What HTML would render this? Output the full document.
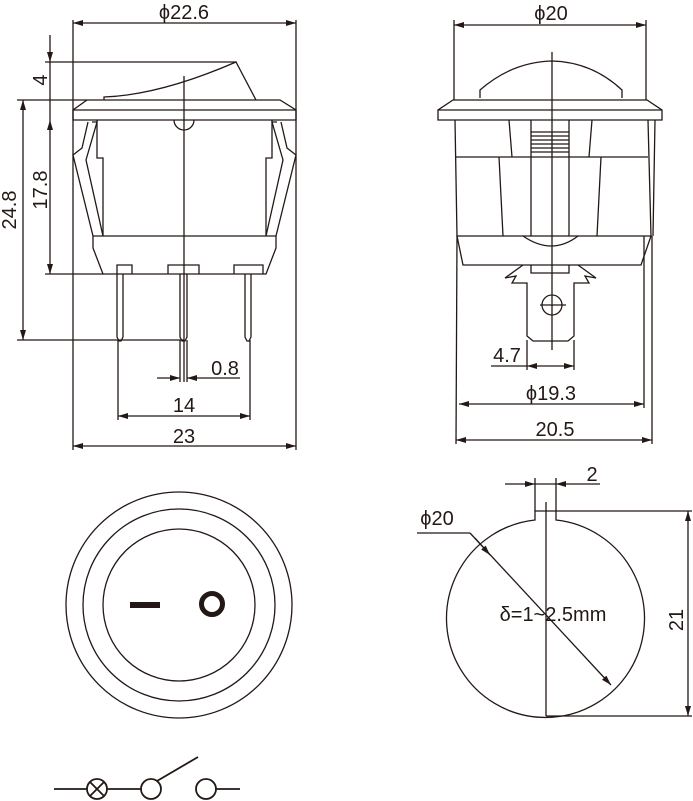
<!DOCTYPE html>
<html><head><meta charset="utf-8"><style>
html,body{margin:0;padding:0;background:#fff;}
svg{display:block;}
text{font-family:"Liberation Sans",sans-serif;fill:#231815;font-size:20px;}
</style></head><body>
<svg width="693" height="801" viewBox="0 0 693 801" xmlns="http://www.w3.org/2000/svg">
<defs>
<marker id="a" viewBox="0 0 10 6" refX="10" refY="3" markerWidth="10" markerHeight="6" orient="auto-start-reverse" markerUnits="userSpaceOnUse"><path d="M0,0 L10,3 L0,6 Z" fill="#231815"/></marker>
</defs>
<g stroke="#231815" fill="none" stroke-width="1.3">
<line x1="73" y1="20" x2="73" y2="450"/>
<line x1="296" y1="20" x2="296" y2="450"/>
<line x1="73" y1="23" x2="296" y2="23" marker-start="url(#a)" marker-end="url(#a)"/>
<line x1="45" y1="62" x2="236" y2="62"/>
<line x1="17" y1="100" x2="87" y2="100"/>
<line x1="50" y1="35" x2="50" y2="62" marker-end="url(#a)"/>
<line x1="50" y1="62" x2="50" y2="100"/>
<line x1="50" y1="120" x2="50" y2="274" marker-start="url(#a)" marker-end="url(#a)"/>
<line x1="50" y1="100" x2="50" y2="120"/>
<line x1="45" y1="274" x2="103" y2="274"/>
<line x1="23" y1="100" x2="23" y2="340" marker-start="url(#a)" marker-end="url(#a)"/>
<line x1="17" y1="340" x2="184" y2="340"/>
<line x1="184" y1="76" x2="184" y2="382"/>
<line x1="180" y1="340" x2="180" y2="382"/>
<line x1="187" y1="340" x2="187" y2="382"/>
<line x1="157" y1="378" x2="180" y2="378" marker-end="url(#a)"/>
<line x1="210" y1="378" x2="187" y2="378" marker-end="url(#a)"/>
<line x1="210" y1="378" x2="240" y2="378"/>
<line x1="118" y1="340" x2="118" y2="420"/>
<line x1="250" y1="340" x2="250" y2="420"/>
<line x1="118" y1="416" x2="250" y2="416" marker-start="url(#a)" marker-end="url(#a)"/>
<line x1="73" y1="446" x2="296" y2="446" marker-start="url(#a)" marker-end="url(#a)"/>
<path d="M104,100 L104,97 Q160,95 236,62 L256,100"/>
<path d="M87,100 L280,100 L296,110 L296,120 L73,120 L73,110 Z"/>
<line x1="73" y1="110" x2="296" y2="110"/>
<path d="M97,120 L97,158 L103,158 L103,236"/>
<path d="M272,120 L272,158 L266,158 L266,236"/>
<path d="M174,120 A10,10 0 0 0 194,120"/>
<path d="M88,122 L82,148 L73,155 L93,236"/>
<path d="M92,122 L97,122 L86,160 L103,236"/>
<path d="M281,122 L287,148 L296,155 L276,236"/>
<path d="M277,122 L272,122 L283,160 L266,236"/>
<path d="M93,236 L276,236 L276,248 L266,274 L103,274 L93,248 Z"/>
<path d="M117,274 L117,265 L132,265 L132,274"/>
<path d="M168,274 L168,265 L199,265 L199,274"/>
<path d="M234,274 L234,265 L263,265 L263,274"/>
<path d="M117,274 L117,337 L119,341 L121,341 L123,337 L123,274"/>
<path d="M180,274 L180,337 L182,341 L185,341 L187,337 L187,274"/>
<path d="M245,274 L245,337 L247,341 L249,341 L251,337 L251,274"/>
<line x1="454" y1="20" x2="454" y2="100"/>
<line x1="646" y1="20" x2="646" y2="100"/>
<line x1="454" y1="25" x2="646" y2="25" marker-start="url(#a)" marker-end="url(#a)"/>
<line x1="552" y1="52" x2="552" y2="350"/>
<path d="M480,98 L480,90 Q512,62 552,61 Q592,62 622,90 L622,98"/>
<path d="M453,100 L647,100 L662,110 L662,120 L438,120 L438,110 Z"/>
<line x1="438" y1="110" x2="662" y2="110"/>
<path d="M455,120 L457,236"/>
<path d="M648,120 L651,236"/>
<line x1="655" y1="120" x2="653" y2="236"/>
<line x1="455" y1="157" x2="648" y2="157"/>
<path d="M509,120 L512,157 M592,120 L589,157 M531,120 L531,236 M569,120 L569,236 M499,157 L503,236 M601,157 L597,236"/>
<path d="M531,132 L569,132 M531,136 L569,136 M531,140 L569,140 M531,144 L569,144 M531,148 L569,148 M531,152 L569,152"/>
<path d="M457,236 L651,236 L641,265 L463,265 Z"/>
<path d="M523,236 Q552,256 578,236"/>
<path d="M531,265 L531,273 L569,273 L569,265"/>
<path d="M523,265 L505,278 L516,276 L512,283 L527,283 L527,336 L533,341 L568,341 L574,336 L574,283 L589,283 L585,276 L596,278 L578,265"/>
<circle cx="552" cy="305" r="10"/>
<line x1="540" y1="305" x2="566" y2="305"/>
<line x1="527" y1="340" x2="527" y2="370"/>
<line x1="574" y1="340" x2="574" y2="370"/>
<line x1="491" y1="366" x2="527" y2="366"/>
<line x1="550" y1="366" x2="527" y2="366" marker-end="url(#a)"/>
<line x1="550" y1="366" x2="574" y2="366" marker-end="url(#a)"/>
<line x1="457" y1="236" x2="456" y2="444"/>
<line x1="652" y1="236" x2="652" y2="444"/>
<line x1="644" y1="236" x2="644" y2="408"/>
<line x1="459" y1="404" x2="644" y2="404" marker-start="url(#a)" marker-end="url(#a)"/>
<line x1="456" y1="440" x2="652" y2="440" marker-start="url(#a)" marker-end="url(#a)"/>
<circle cx="179" cy="605" r="113"/>
<circle cx="179" cy="605" r="96"/>
<circle cx="179" cy="605" r="76"/>
<line x1="130" y1="605" x2="160" y2="605" stroke-width="6"/>
<circle cx="212" cy="604" r="10.5" stroke-width="5"/>
<path d="M535,511 L535,520 A99,99 0 1 0 556,520 L556,511 Z"/>
<line x1="535" y1="478" x2="535" y2="511"/>
<line x1="556" y1="478" x2="556" y2="511"/>
<line x1="505" y1="484" x2="535" y2="484" marker-end="url(#a)"/>
<line x1="600" y1="484" x2="556" y2="484" marker-end="url(#a)"/>
<line x1="535" y1="484" x2="556" y2="484"/>
<line x1="546" y1="502" x2="546" y2="716"/>
<line x1="417" y1="533" x2="470" y2="533"/>
<line x1="470" y1="533" x2="611" y2="685" marker-end="url(#a)"/>
<line x1="475" y1="538" x2="490" y2="555" marker-end="url(#a)"/>
<line x1="556" y1="511" x2="692" y2="511"/>
<line x1="546" y1="716" x2="692" y2="716"/>
<line x1="688" y1="511" x2="688" y2="716" marker-start="url(#a)" marker-end="url(#a)"/>
<g stroke-width="1.8">
<line x1="54" y1="789" x2="87" y2="789"/>
<circle cx="97" cy="789" r="10"/>
<line x1="90" y1="782" x2="104" y2="796"/>
<line x1="104" y1="782" x2="90" y2="796"/>
<line x1="107" y1="789" x2="141" y2="789"/>
<circle cx="151" cy="789" r="10"/>
<line x1="157" y1="781" x2="198" y2="757"/>
<circle cx="206" cy="789" r="10"/>
<line x1="216" y1="789" x2="240" y2="789"/>
</g>
</g>
<text x="184" y="19" text-anchor="middle">ϕ22.6</text>
<text transform="translate(47,80) rotate(-90)" text-anchor="middle">4</text>
<text transform="translate(47,190) rotate(-90)" text-anchor="middle">17.8</text>
<text transform="translate(16,210) rotate(-90)" text-anchor="middle">24.8</text>
<text x="225" y="375" text-anchor="middle">0.8</text>
<text x="184" y="412" text-anchor="middle">14</text>
<text x="184" y="443" text-anchor="middle">23</text>
<text x="551" y="20" text-anchor="middle">ϕ20</text>
<text x="507" y="362" text-anchor="middle">4.7</text>
<text x="551" y="400" text-anchor="middle">ϕ19.3</text>
<text x="555" y="436" text-anchor="middle">20.5</text>
<text x="592" y="481" text-anchor="middle">2</text>
<text x="437" y="525" text-anchor="middle">ϕ20</text>
<text x="553" y="621" text-anchor="middle">δ=1~2.5mm</text>
<text transform="translate(683,620) rotate(-90)" text-anchor="middle">21</text>
</svg>
</body></html>
